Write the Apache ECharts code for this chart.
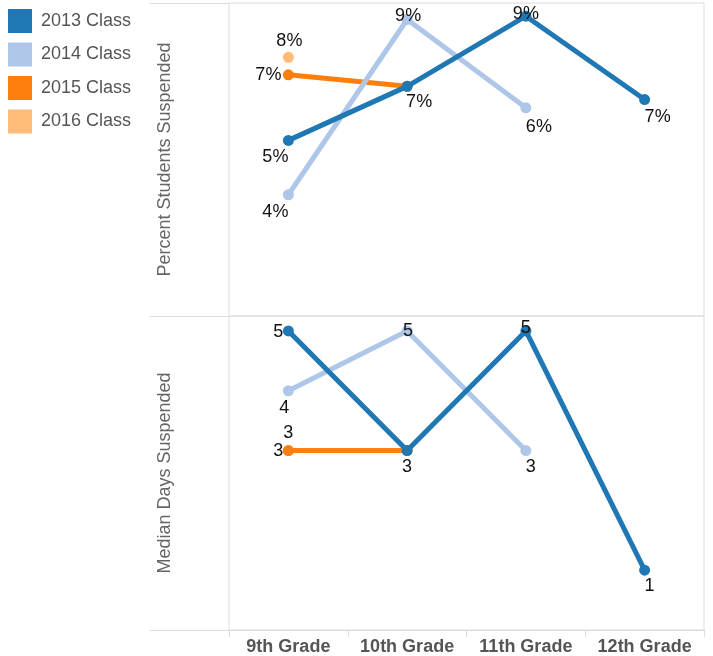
<!DOCTYPE html>
<html>
<head>
<meta charset="utf-8">
<script src="https://cdn.jsdelivr.net/npm/echarts@6/dist/echarts.min.js"></script>
<style>
html,body{margin:0;padding:0;background:#fff;}
#chart{width:713px;height:656px;}
</style>
</head>
<body>
<div id="chart"></div>
<script>
// ---- data ----
const grades = ['9th Grade', '10th Grade', '11th Grade', '12th Grade'];
const classes = ['2013 Class', '2014 Class', '2015 Class', '2016 Class'];
const colors = ['#1f77b4', '#aec7e8', '#ff7f0e', '#ffbb78'];

// Percent Students Suspended (%)
const pct2013 = [5.33, 6.97, 9.10, 6.57];
const pct2014 = [3.68, 9.00, 6.32, null];
const pct2015 = [7.32, 6.97, null, null];
const pct2016 = [7.85, null, null, null];

// Median Days Suspended
const days2013 = [5, 3, 5, 1];
const days2014 = [4, 5, 3, null];
const days2015 = [3, 3, null, null];
const days2016 = [3, null, null, null];

// ---- label placement (offsets from point centre; null = no label) ----
const pctLabelOff = [
  [[-13, 17], [12, 16], [0, -2], [13, 17]],
  [[-13, 17], [1, -3], [13, 19], null],
  [[-20, 0], null, null, null],
  [[1, -16], null, null, null]
];
const daysLabelOff = [
  [[-10, 1], [0, 16], [0, -3], [5, 16]],
  [[-4, 17], [1, 0], [5, 16], null],
  [[-10, 0], null, null, null],
  [[0, -18], null, null, null]
];

const FONT = '"Liberation Sans", Arial, sans-serif';
const pctSeries = [pct2013, pct2014, pct2015, pct2016];
const daysSeries = [days2013, days2014, days2015, days2016];

function buildData(vals, offs, fmt) {
  return vals.map((v, i) => {
    if (v === null) return null;
    const o = offs[i];
    if (!o) return { value: v, label: { show: false } };
    return {
      value: v,
      label: {
        show: true, position: 'inside', offset: o,
        formatter: fmt(v), color: '#111', fontSize: 18, fontFamily: FONT
      }
    };
  });
}

const series = [];
// draw order: 2016 first, 2013 last (on top)
for (let k = 3; k >= 0; k--) {
  const common = {
    name: classes[k], type: 'line', symbol: 'circle', symbolSize: 11,
    showAllSymbol: true, connectNulls: false,
    itemStyle: { color: colors[k] },
    lineStyle: { color: colors[k], width: 5 },
    emphasis: { disabled: true }, z: 10 - k
  };
  series.push(Object.assign({}, common, {
    xAxisIndex: 0, yAxisIndex: 0,
    data: buildData(pctSeries[k], pctLabelOff[k], v => Math.round(v) + '%')
  }));
  series.push(Object.assign({}, common, {
    xAxisIndex: 1, yAxisIndex: 1,
    data: buildData(daysSeries[k], daysLabelOff[k], v => String(v))
  }));
}

const GRID_LEFT = 229, GRID_RIGHT = 9;
const LINE = '#dcdcdc';

const option = {
  animation: false,
  backgroundColor: '#fff',
  textStyle: { fontFamily: FONT },
  legend: {
    data: classes, orient: 'vertical', left: 8, top: 9, padding: 0,
    icon: 'rect', itemWidth: 24, itemHeight: 24, itemGap: 9.5,
    selectedMode: false,
    textStyle: { fontSize: 18, color: '#555', fontFamily: FONT, padding: [0, 0, 0, 4] }
  },
  grid: [
    { left: GRID_LEFT, right: GRID_RIGHT, top: 3, height: 313, show: true, borderColor: LINE, borderWidth: 1 },
    { left: GRID_LEFT, right: GRID_RIGHT, top: 316, height: 314, show: true, borderColor: LINE, borderWidth: 1 }
  ],
  xAxis: [
    { type: 'category', gridIndex: 0, data: grades, boundaryGap: true,
      axisLine: { show: false }, axisTick: { show: false }, axisLabel: { show: false }, splitLine: { show: false } },
    { type: 'category', gridIndex: 1, data: grades, boundaryGap: true,
      axisLine: { show: true, lineStyle: { color: LINE } },
      axisTick: { show: true, length: 7, interval: 0, lineStyle: { color: LINE } },
      axisLabel: { show: true, interval: 0, fontSize: 18, fontWeight: 'bold', color: '#555', margin: 8, fontFamily: FONT },
      splitLine: { show: false } }
  ],
  yAxis: [
    { type: 'value', gridIndex: 0, min: 0, max: 9.5,
      name: 'Percent Students Suspended', nameLocation: 'middle', nameGap: 55, nameRotate: 90,
      nameTextStyle: { fontSize: 18, color: '#666', fontFamily: FONT },
      axisLine: { show: false }, axisTick: { show: false }, axisLabel: { show: false }, splitLine: { show: false } },
    { type: 'value', gridIndex: 1, min: 0, max: 5.25,
      name: 'Median Days Suspended', nameLocation: 'middle', nameGap: 55, nameRotate: 90,
      nameTextStyle: { fontSize: 18, color: '#666', fontFamily: FONT },
      axisLine: { show: false }, axisTick: { show: false }, axisLabel: { show: false }, splitLine: { show: false } }
  ],
  graphic: [
    { type: 'line', shape: { x1: 150, y1: 3.5, x2: GRID_LEFT, y2: 3.5 }, style: { stroke: LINE, lineWidth: 1 }, silent: true },
    { type: 'line', shape: { x1: 150, y1: 316.5, x2: GRID_LEFT, y2: 316.5 }, style: { stroke: LINE, lineWidth: 1 }, silent: true },
    { type: 'line', shape: { x1: 150, y1: 630.5, x2: GRID_LEFT, y2: 630.5 }, style: { stroke: LINE, lineWidth: 1 }, silent: true }
  ],
  series: series
};

const chart = echarts.init(document.getElementById('chart'), null, { renderer: 'canvas' });
chart.setOption(option);
</script>
</body>
</html>
